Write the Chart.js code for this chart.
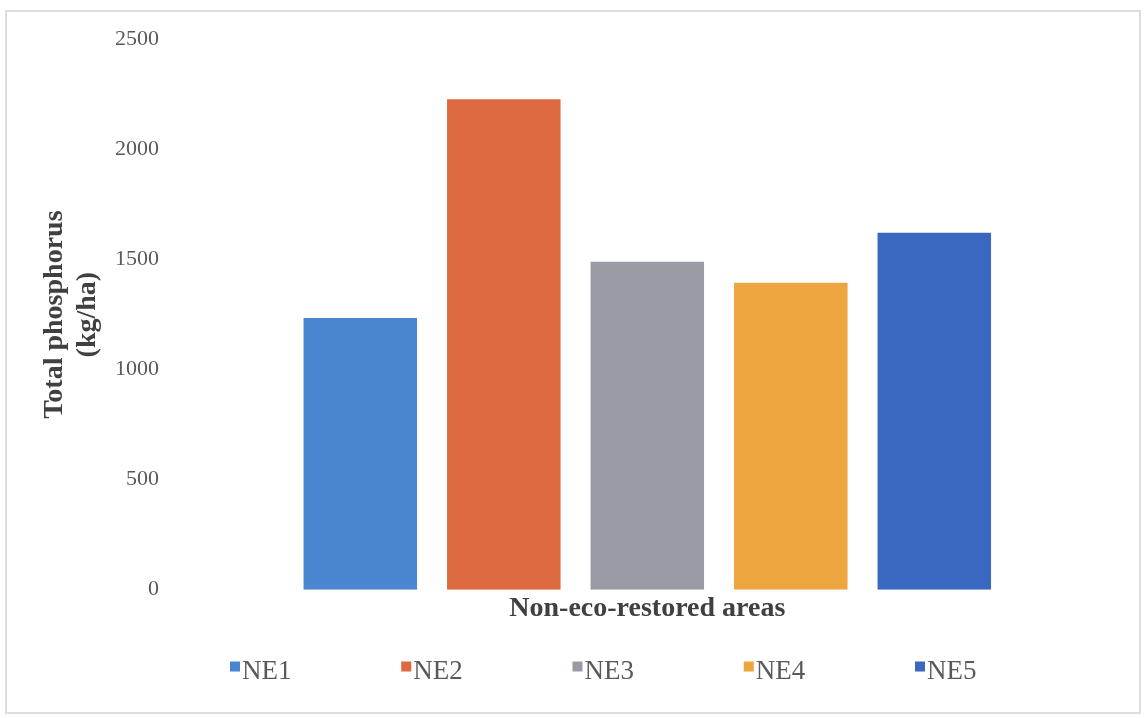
<!DOCTYPE html>
<html>
<head>
<meta charset="utf-8">
<title>Total phosphorus in non-eco-restored areas</title>
<script src="https://cdn.jsdelivr.net/npm/chart.js@4.4.1/dist/chart.umd.min.js"></script>
<style>
  body { margin: 0; background: #fff; }
  .frame {
    position: absolute; left: 5px; top: 10px;
    width: 1136px; height: 704px;
    box-sizing: border-box;
    border: 2px solid #dadde4;
  }
  #phosChart { position: absolute; left: 0; top: 0; }
</style>
</head>
<body>
<div class="frame"></div>
<canvas id="phosChart" width="1147" height="718"></canvas>

<script>
// sites and their total phosphorus (kg/ha)
const areas = ["NE1", "NE2", "NE3", "NE4", "NE5"];
const phosphorus = [1235, 2228, 1490, 1395, 1622];
const barColors = ["#4a85cf", "#dc693f", "#989ba3", "#eda53f", "#3a67bf"];

// y axis range
const yMin = 0;
const yMax = 2500;
const yStep = 500;

const serif = '"Liberation Serif", "Times New Roman", serif';
Chart.defaults.font.family = serif;

// one dataset per site so each bar gets its own legend entry
const datasets = areas.map((name, i) => ({
    label: name,
    data: [phosphorus[i]],
    backgroundColor: barColors[i],
    borderWidth: 0
}));

// wide-spaced legend row drawn under the axis title
const siteLegend = {
    id: "siteLegend",
    afterDraw(chart) {
        const c = chart.ctx;
        const items = chart.options.plugins.legend.labels.generateLabels(chart);
        const startX = 230;
        const step = 171.25;
        const baseline = 679;
        c.save();
        c.font = "27px " + serif;
        c.textBaseline = "alphabetic";
        c.textAlign = "left";
        items.forEach((item, i) => {
            const x = startX + i * step;
            c.fillStyle = item.fillStyle;
            c.fillRect(x, baseline - 17.5, 10, 10);
            c.fillStyle = "#595959";
            c.fillText(item.text, x + 12, baseline);
        });
        c.restore();
    }
};

const ctx = document.getElementById("phosChart");

new Chart(ctx, {
    type: "bar",
    data: {
        labels: [""],
        datasets
    },
    options: {
        responsive: false,
        animation: false,
        layout: {
            padding: { top: 39.5, right: 22.4, bottom: 92.7, left: 0 }
        },
        datasets: {
            bar: {
                categoryPercentage: 0.7516,
                barPercentage: 0.791
            }
        },
        scales: {
            x: {
                grid: { display: false, drawTicks: false },
                border: { display: false },
                ticks: { display: false },
                title: {
                    display: true,
                    text: "Non-eco-restored areas",
                    color: "#404040",
                    font: { size: 28, weight: "bold", lineHeight: 1.2 },
                    padding: { top: 2, bottom: 0 }
                }
            },
            y: {
                min: yMin,
                max: yMax,
                ticks: {
                    stepSize: yStep,
                    color: "#595959",
                    font: { size: 22 },
                    padding: 11,
                    // plain numbers, no thousands separator
                    callback: value => String(value)
                },
                grid: { display: false, drawTicks: false },
                border: { display: false },
                title: {
                    display: true,
                    text: ["Total phosphorus", "(kg/ha)"],
                    color: "#404040",
                    font: { size: 28, weight: "bold", lineHeight: 1.18 },
                    padding: { top: 38.5, bottom: 0 }
                },
                afterFit(scale) {
                    scale.width = 170;
                }
            }
        },
        plugins: {
            legend: { display: false },
            tooltip: { enabled: false }
        }
    },
    plugins: [siteLegend]
});
</script>
</body>
</html>
